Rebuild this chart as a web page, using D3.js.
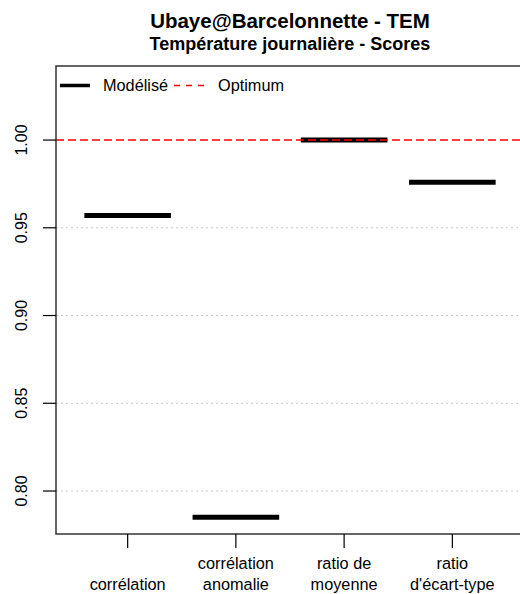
<!DOCTYPE html>
<html><head><meta charset="utf-8">
<script src="https://cdn.jsdelivr.net/npm/d3@7"></script>
<style>body{margin:0;background:#fff}svg{display:block;font-family:"Liberation Sans",Arial,sans-serif}</style>
</head><body><svg id="c" width="520" height="594"></svg>
<script>
const categories = [["corrélation"], ["corrélation", "anomalie"], ["ratio de", "moyenne"], ["ratio", "d'écart-type"]];
const scores = [0.957, 0.785, 1.000, 0.976];
const optimum = 1.0;
const yTicks = [0.80, 0.85, 0.90, 0.95, 1.00];
const title = "Ubaye@Barcelonnette - TEM";
const subtitle = "Température journalière - Scores";
const legendLabels = ["Modélisé", "Optimum"];

const svg = d3.select("#c");
const L = 56, R = 524, T = 66, B = 534;
const x = d3.scaleLinear().domain([0.338, 4.662]).range([L, R]);
const y = d3.scaleLinear().domain([0.7755, 1.0422]).range([B, T]);

// titles
svg.append("text").attr("x", (L+R)/2).attr("y", 28).attr("text-anchor","middle")
  .attr("font-weight","bold").attr("font-size",20.5).text(title);
svg.append("text").attr("x", (L+R)/2).attr("y", 50).attr("text-anchor","middle")
  .attr("font-weight","bold").attr("font-size",18).text(subtitle);

// grid
svg.append("g").selectAll("line").data(yTicks.filter(v=>v!==optimum)).join("line")
  .attr("x1", L).attr("x2", R).attr("y1", d=>y(d)).attr("y2", d=>y(d))
  .attr("stroke","#c8c8c8").attr("stroke-width",1).attr("stroke-dasharray","2,3");

// bars
const bw = 0.4;
svg.append("g").selectAll("line").data(scores).join("line")
  .attr("x1", (d,i)=>x(i+1-bw)).attr("x2", (d,i)=>x(i+1+bw))
  .attr("y1", d=>y(d)).attr("y2", d=>y(d))
  .attr("stroke","#000").attr("stroke-width",5);

// optimum line
svg.append("line").attr("x1", L).attr("x2", R).attr("y1", y(optimum)).attr("y2", y(optimum))
  .attr("stroke","#ff0000").attr("stroke-width",1.5).attr("stroke-dasharray","8,4");

// frame
svg.append("rect").attr("x", L).attr("y", T).attr("width", R-L).attr("height", B-T)
  .attr("fill","none").attr("stroke","#333").attr("stroke-width",1.5);

// y axis
const ya = svg.append("g");
ya.selectAll("line").data(yTicks).join("line")
  .attr("x1", L-13).attr("x2", L).attr("y1", d=>y(d)).attr("y2", d=>y(d))
  .attr("stroke","#000").attr("stroke-width",1.2);
ya.selectAll("text").data(yTicks).join("text")
  .attr("transform", d=>`translate(27,${y(d)}) rotate(-90)`)
  .attr("text-anchor","middle").attr("font-size",16).text(d=>d3.format(".2f")(d));

// x axis
const xa = svg.append("g");
xa.selectAll("line").data(categories).join("line")
  .attr("x1", (d,i)=>x(i+1)).attr("x2", (d,i)=>x(i+1)).attr("y1", B).attr("y2", B+14)
  .attr("stroke","#000").attr("stroke-width",1.2);
xa.selectAll("text").data(categories).join("text")
  .attr("text-anchor","middle").attr("font-size",16.3)
  .each(function(d,i){
    const t = d3.select(this);
    const n = d.length;
    d.forEach((s,j)=>{
      t.append("tspan").attr("x", x(i+1)).attr("y", 590 - (n-1-j)*21.5).text(s);
    });
  });

// legend
const lg = svg.append("g");
lg.append("line").attr("x1",60).attr("x2",90).attr("y1",85.5).attr("y2",85.5)
  .attr("stroke","#000").attr("stroke-width",3.5);
lg.append("text").attr("x",103).attr("y",91).attr("font-size",16.3).text(legendLabels[0]);
lg.append("line").attr("x1",174).attr("x2",205).attr("y1",85.5).attr("y2",85.5)
  .attr("stroke","#ff0000").attr("stroke-width",1.5).attr("stroke-dasharray","6,6");
lg.append("text").attr("x",218).attr("y",91).attr("font-size",16.3).text(legendLabels[1]);
</script></body></html>
